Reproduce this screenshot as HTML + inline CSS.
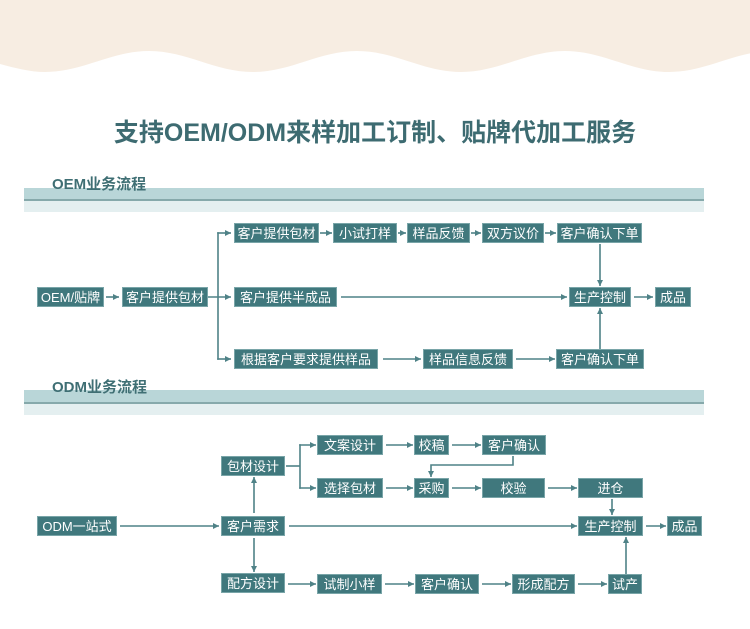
<!DOCTYPE html>
<html>
<head>
<meta charset="utf-8">
<style>
  html, body { margin:0; padding:0; }
  body { width:750px; height:629px; position:relative; overflow:hidden; background:#ffffff;
         font-family:"Liberation Sans","Noto Sans CJK SC",sans-serif; }
  .abs { position:absolute; }
  .title { position:absolute; left:0; top:117px; width:750px; text-align:center;
           font-size:25px; font-weight:bold; color:#3d6b71; line-height:32px; letter-spacing:0px; }
  .hlabel { position:absolute; font-size:15px; color:#3f6f74; line-height:16px; font-weight:bold; }
  .band1 { position:absolute; left:24px; width:680px; background:#b9d6d8; }
  .bandline { position:absolute; left:24px; width:680px; background:#86a9ab; }
  .band2 { position:absolute; left:24px; width:680px; background:#e4eff0; }
  .b { position:absolute; background:#40787d; color:#ffffff; font-size:13px;
       display:flex; align-items:center; justify-content:center; white-space:nowrap;
       box-shadow: inset 0 0 0 1px rgba(190,220,222,0.45); line-height:13px; }
  svg { position:absolute; left:0; top:0; }
</style>
</head>
<body>

<svg width="750" height="629" viewBox="0 0 750 629">
  <path d="M0,0 L780,0 L780,51 L773,51 C735,51 707,72 669,72 C631,72 603,51 565,51 C527,51 499,72 461,72 C423,72 395,51 357,51 C319,51 291,72 253,72 C215,72 187,51 149,51 C111,51 83,72 45,72 C30,72 15,68 0,64 Z" fill="#f7ede2"/>
</svg>

<div class="title">支持OEM/ODM来样加工订制、贴牌代加工服务</div>

<!-- OEM header -->
<div class="band1" style="top:188px;height:11px;"></div>
<div class="bandline" style="top:199px;height:2px;"></div>
<div class="band2" style="top:201px;height:11px;"></div>
<div class="hlabel" style="left:52px;top:177px;">OEM业务流程</div>

<!-- ODM header -->
<div class="band1" style="top:390px;height:12px;"></div>
<div class="bandline" style="top:402px;height:2px;"></div>
<div class="band2" style="top:404px;height:11px;"></div>
<div class="hlabel" style="left:52px;top:380px;">ODM业务流程</div>

<svg width="750" height="629" viewBox="0 0 750 629">
  <defs>
    <marker id="ah" markerUnits="userSpaceOnUse" markerWidth="7" markerHeight="7" refX="6" refY="3.5" orient="auto">
      <path d="M0,0.5 L6,3.5 L0,6.5 Z" fill="#4f8287"/>
    </marker>
  </defs>
  <g stroke="#4f8287" stroke-width="1.6" fill="none">
    <!-- OEM -->
    <line x1="106" y1="297" x2="119" y2="297" marker-end="url(#ah)"/>
    <line x1="208" y1="297" x2="231" y2="297" marker-end="url(#ah)"/>
    <line x1="218" y1="232.2" x2="218" y2="359.8"/>
    <line x1="217.2" y1="233" x2="231" y2="233" marker-end="url(#ah)"/>
    <line x1="217.2" y1="359" x2="231" y2="359" marker-end="url(#ah)"/>
    <line x1="320" y1="233" x2="332" y2="233" marker-end="url(#ah)"/>
    <line x1="398" y1="233" x2="406" y2="233" marker-end="url(#ah)"/>
    <line x1="471" y1="233" x2="481" y2="233" marker-end="url(#ah)"/>
    <line x1="545" y1="233" x2="556" y2="233" marker-end="url(#ah)"/>
    <line x1="341" y1="297" x2="567" y2="297" marker-end="url(#ah)"/>
    <line x1="634" y1="297" x2="653" y2="297" marker-end="url(#ah)"/>
    <line x1="600" y1="244" x2="600" y2="286" marker-end="url(#ah)"/>
    <line x1="600" y1="349" x2="600" y2="308" marker-end="url(#ah)"/>
    <line x1="383" y1="359" x2="421" y2="359" marker-end="url(#ah)"/>
    <line x1="516" y1="359" x2="555" y2="359" marker-end="url(#ah)"/>

    <!-- ODM -->
    <line x1="120" y1="526" x2="219" y2="526" marker-end="url(#ah)"/>
    <line x1="289" y1="526" x2="577" y2="526" marker-end="url(#ah)"/>
    <line x1="254" y1="513" x2="254" y2="477" marker-end="url(#ah)"/>
    <line x1="254" y1="538" x2="254" y2="572" marker-end="url(#ah)"/>
    <line x1="286" y1="466" x2="300" y2="466"/>
    <line x1="300" y1="444.2" x2="300" y2="488.8"/>
    <line x1="299.2" y1="445" x2="316" y2="445" marker-end="url(#ah)"/>
    <line x1="299.2" y1="488" x2="316" y2="488" marker-end="url(#ah)"/>
    <line x1="386" y1="445" x2="413" y2="445" marker-end="url(#ah)"/>
    <line x1="452" y1="445" x2="481" y2="445" marker-end="url(#ah)"/>
    <polyline points="513,456 513,465 431,465 431,477" marker-end="url(#ah)"/>
    <line x1="386" y1="488" x2="413" y2="488" marker-end="url(#ah)"/>
    <line x1="452" y1="488" x2="481" y2="488" marker-end="url(#ah)"/>
    <line x1="548" y1="488" x2="577" y2="488" marker-end="url(#ah)"/>
    <line x1="612" y1="499" x2="612" y2="515" marker-end="url(#ah)"/>
    <line x1="646" y1="526" x2="666" y2="526" marker-end="url(#ah)"/>
    <line x1="288" y1="584" x2="316" y2="584" marker-end="url(#ah)"/>
    <line x1="385" y1="584" x2="414" y2="584" marker-end="url(#ah)"/>
    <line x1="482" y1="584" x2="511" y2="584" marker-end="url(#ah)"/>
    <line x1="578" y1="584" x2="607" y2="584" marker-end="url(#ah)"/>
    <line x1="626" y1="574" x2="626" y2="537" marker-end="url(#ah)"/>
  </g>
</svg>

<!-- OEM boxes -->
<div class="b" style="left:37px;top:287px;width:67px;height:20px;">OEM/贴牌</div>
<div class="b" style="left:122px;top:287px;width:86px;height:20px;">客户提供包材</div>
<div class="b" style="left:234px;top:223px;width:85px;height:20px;">客户提供包材</div>
<div class="b" style="left:333px;top:223px;width:64px;height:20px;">小试打样</div>
<div class="b" style="left:407px;top:223px;width:63px;height:20px;">样品反馈</div>
<div class="b" style="left:482px;top:223px;width:62px;height:20px;">双方议价</div>
<div class="b" style="left:557px;top:223px;width:85px;height:20px;">客户确认下单</div>
<div class="b" style="left:234px;top:287px;width:103px;height:20px;">客户提供半成品</div>
<div class="b" style="left:569px;top:287px;width:62px;height:20px;">生产控制</div>
<div class="b" style="left:655px;top:287px;width:36px;height:20px;">成品</div>
<div class="b" style="left:234px;top:349px;width:144px;height:20px;">根据客户要求提供样品</div>
<div class="b" style="left:423px;top:349px;width:90px;height:20px;">样品信息反馈</div>
<div class="b" style="left:556px;top:349px;width:88px;height:20px;">客户确认下单</div>

<!-- ODM boxes -->
<div class="b" style="left:37px;top:516px;width:80px;height:20px;">ODM一站式</div>
<div class="b" style="left:221px;top:516px;width:64px;height:20px;">客户需求</div>
<div class="b" style="left:221px;top:456px;width:64px;height:20px;">包材设计</div>
<div class="b" style="left:221px;top:573px;width:64px;height:20px;">配方设计</div>
<div class="b" style="left:317px;top:435px;width:66px;height:20px;">文案设计</div>
<div class="b" style="left:414px;top:435px;width:35px;height:20px;">校稿</div>
<div class="b" style="left:482px;top:435px;width:64px;height:20px;">客户确认</div>
<div class="b" style="left:317px;top:478px;width:66px;height:20px;">选择包材</div>
<div class="b" style="left:414px;top:478px;width:35px;height:20px;">采购</div>
<div class="b" style="left:482px;top:478px;width:63px;height:20px;">校验</div>
<div class="b" style="left:578px;top:478px;width:65px;height:20px;">进仓</div>
<div class="b" style="left:578px;top:516px;width:65px;height:20px;">生产控制</div>
<div class="b" style="left:667px;top:516px;width:35px;height:20px;">成品</div>
<div class="b" style="left:317px;top:574px;width:65px;height:20px;">试制小样</div>
<div class="b" style="left:415px;top:574px;width:64px;height:20px;">客户确认</div>
<div class="b" style="left:512px;top:574px;width:63px;height:20px;">形成配方</div>
<div class="b" style="left:608px;top:574px;width:34px;height:20px;">试产</div>

</body>
</html>
